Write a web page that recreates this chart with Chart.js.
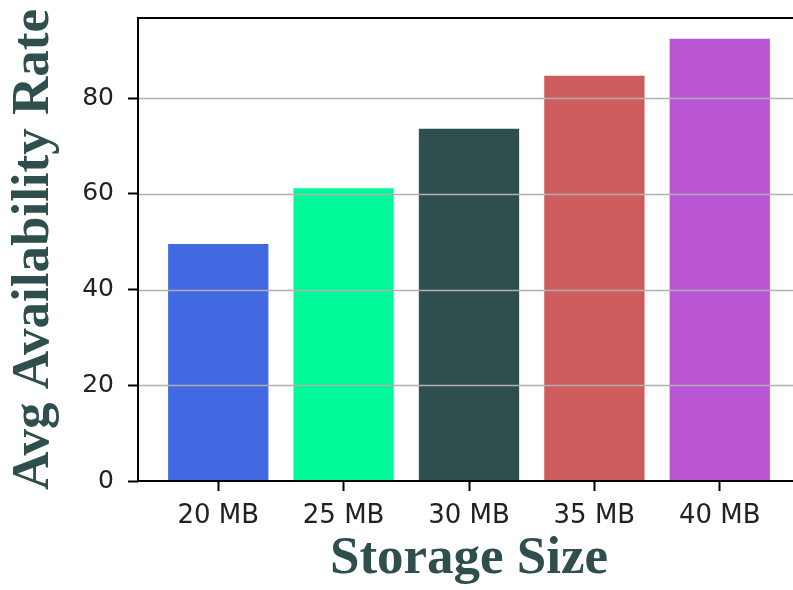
<!DOCTYPE html>
<html>
<head>
<meta charset="utf-8">
<script src="https://cdn.jsdelivr.net/npm/chart.js@4.4.1/dist/chart.umd.min.js"></script>
<style>
  html, body { margin: 0; padding: 0; background: #fff; overflow: hidden; }
  #wrap { position: absolute; left: 0; top: 0; width: 810px; height: 590px; }
</style>
</head>
<body>
<div id="wrap"><canvas id="barChart"></canvas></div>
<script>
// data
const sizes = ["20 MB", "25 MB", "30 MB", "35 MB", "40 MB"];
const rates = [49.5, 61.2, 73.6, 84.7, 92.4];
const barColors = ["#4169E1", "#00FA9A", "#2F4F4F", "#CD5C5C", "#BA55D3"];
const yTicks = [0, 20, 40, 60, 80];

// grid lines sit on top of the bars, plus the box around the plot
const overlay = {
  id: "overlay",
  afterDatasetsDraw(chart) {
    const { ctx, chartArea: a, scales: { y } } = chart;
    ctx.save();
    ctx.strokeStyle = "#b0b0b0";
    ctx.lineWidth = 1.6;
    yTicks.slice(1).forEach((v) => {
      const py = Math.round(y.getPixelForValue(v)) + 0.5;
      ctx.beginPath();
      ctx.moveTo(a.left, py);
      ctx.lineTo(a.right, py);
      ctx.stroke();
    });
    ctx.strokeStyle = "#000";
    ctx.lineWidth = 2;
    ctx.strokeRect(a.left, a.top, a.right - a.left, a.bottom - a.top);
    ctx.restore();
  },
};

const ctx = document.getElementById("barChart").getContext("2d");
const chart = new Chart(ctx, {
  type: "bar",
  data: {
    datasets: [
      {
        data: rates.map((v, i) => ({ x: i, y: v })),
        backgroundColor: barColors,
        borderWidth: 0,
        barPercentage: 0.8,
        categoryPercentage: 1,
      },
    ],
  },
  options: {
    responsive: true,
    maintainAspectRatio: false,
    animation: false,
    layout: { padding: { left: 0, top: 18, right: 10, bottom: 0 } },
    plugins: { legend: { display: false }, tooltip: { enabled: false } },
    scales: {
      x: {
        type: "linear",
        min: -0.64,
        max: 4.64,
        offset: false,
        afterBuildTicks: (s) => {
          s.ticks = sizes.map((c, i) => ({ value: i }));
        },
        afterFit: (s) => {
          s.height = 109;
          s.paddingLeft = 0;
          s.paddingRight = 0;
        },
        border: { display: false },
        grid: {
          offset: false,
          drawOnChartArea: false,
          tickLength: 10,
          tickWidth: 2,
          tickColor: "#000",
        },
        ticks: {
          color: "#222",
          padding: 10,
          font: { family: "DejaVu Sans", size: 26 },
          callback: (v) => sizes[v],
        },
        title: {
          display: true,
          text: "Storage Size",
          color: "#2F4F4F",
          padding: { top: 0, bottom: 4 },
          font: { family: "Liberation Serif", size: 53, weight: "bold", lineHeight: 1 },
        },
      },
      y: {
        min: 0,
        max: 96.75,
        afterBuildTicks: (s) => {
          s.ticks = yTicks.map((v) => ({ value: v }));
        },
        afterFit: (s) => {
          s.width = 138;
          s.paddingTop = 0;
          s.paddingBottom = 0;
        },
        border: { display: false },
        grid: {
          drawOnChartArea: false,
          tickLength: 10,
          tickWidth: 2,
          tickColor: "#000",
        },
        ticks: {
          color: "#222",
          padding: 14,
          font: { family: "DejaVu Sans", size: 25 },
        },
        title: {
          display: true,
          text: "Avg Availability Rate",
          color: "#2F4F4F",
          padding: { top: 3, bottom: 0 },
          font: { family: "Liberation Serif", size: 53, weight: "bold", lineHeight: 1.2 },
        },
      },
    },
  },
  plugins: [overlay],
});
</script>
</body>
</html>
